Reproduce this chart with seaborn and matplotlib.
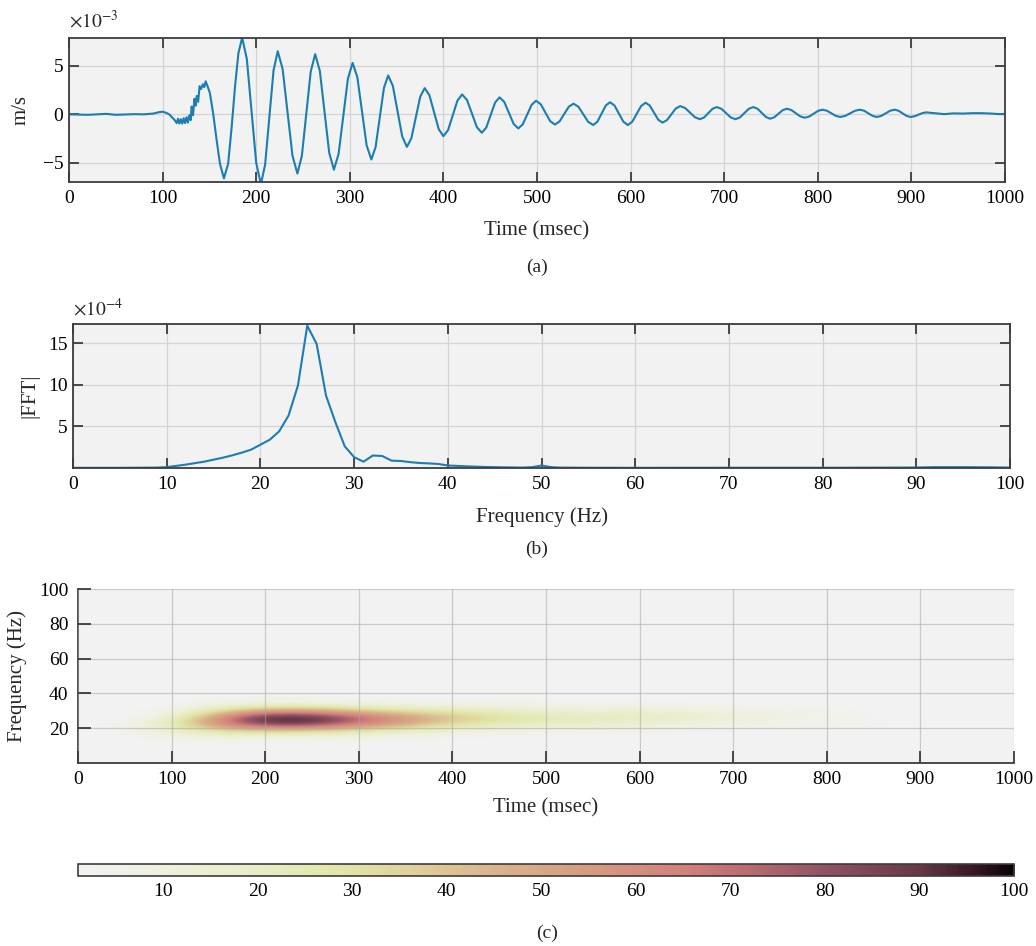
import numpy as np
import matplotlib
matplotlib.use('Agg')
import matplotlib.pyplot as plt
import seaborn as sns
from matplotlib.colors import LinearSegmentedColormap, Normalize

# (a) velocity trace, values in units of 1e-3 m/s
wave_t = [0, 10, 20, 30, 40, 50, 60, 70, 80, 90, 96, 100, 104, 107, 110, 113,
          115, 116.5, 118, 119.5, 121, 122.5, 124, 125.5, 127, 128.5, 130, 131,
          132.5, 134, 135.5, 136.5, 138, 139.5, 141, 143, 144.5, 146, 148, 150.5,
          154, 157.8, 161.3, 165.5, 170, 173.8, 177.4, 181, 185,
          190, 195, 200, 205, 209.5, 214, 218.5, 223, 228.25, 233.5, 238.75, 244,
          248.75, 253.5, 258.25, 263, 268, 273, 278, 283, 288, 293, 298, 303,
          308, 313, 318, 323, 327.5, 332, 336.5, 341, 346, 351, 356, 361,
          365.75, 370.5, 375.25, 380, 385, 390, 395, 400, 405, 410, 415, 420,
          425.25, 430.5, 435.75, 441, 445.75, 450.5, 455.25, 460, 465, 470, 475, 480,
          484.75, 489.5, 494.25, 499, 504, 509, 514, 519, 524, 529, 534, 539,
          544.25, 549.5, 554.75, 560, 564.5, 569, 573.5, 578, 582.75, 587.5, 592.25, 597,
          601.75, 606.5, 611.25, 616, 620.5, 625, 629.5, 634, 638.75, 643.5, 648.25, 653,
          658.25, 663.5, 668.75, 674, 678.5, 683, 687.5, 692, 697, 702, 707, 712,
          716.75, 721.5, 726.25, 731, 735.5, 740, 744.5, 749, 753.5, 758, 762.5, 767,
          771.75, 776.5, 781.25, 786, 790.75, 795.5, 800.25, 805, 809.75, 814.5, 819.25, 824,
          829.25, 834.5, 839.75, 845, 849.5, 854, 858.5, 863, 867.75, 872.5, 877.25, 882,
          886.25, 890.5, 894.75, 899, 903.25, 907.5, 911.75, 916,
          925, 935, 945, 955, 965, 975, 985, 995, 1000]
wave_v = [0.0, -0.02, -0.05, 0.0, 0.05, -0.05, -0.02, 0.02, 0.0, 0.08, 0.22, 0.27, 0.15, 0.0, -0.3, -0.6,
          -0.9, -0.45, -0.95, -0.5, -0.95, -0.4, -0.9, -0.3, -0.85, -0.1, -0.6, 0.8,
          -0.1, 1.6, 0.9, 1.9, 1.3, 2.9, 2.6, 3.1, 2.8, 3.4, 2.9, 2.2,
          0.1, -2.7, -5.1, -6.6, -5.1, -1.3, 2.9, 6.3, 7.9,
          5.70, 0.35, -5.00, -7.2, -5.20, -0.35, 4.50, 6.5, 4.66, 0.2, -4.26, -6.1,
          -4.30, 0.05, 4.40, 6.2, 4.46, 0.25, -3.96, -5.7, -4.09, -0.2, 3.69, 5.3,
          3.85, 0.33, -3.20, -4.65, -3.39, -0.33, 2.74, 4.0, 2.93, 0.33, -2.28, -3.35,
          -2.47, -0.33, 1.82, 2.7, 1.98, 0.23, -1.53, -2.25, -1.62, -0.1, 1.42, 2.05,
          1.47, 0.08, -1.32, -1.9, -1.37, -0.08, 1.22, 1.75, 1.28, 0.15, -0.98, -1.45,
          -1.03, -0.03, 0.98, 1.4, 1.04, 0.18, -0.69, -1.05, -0.74, 0.03, 0.79, 1.1,
          0.78, 0.0, -0.78, -1.1, -0.76, 0.08, 0.91, 1.25, 0.91, 0.08, -0.76, -1.1,
          -0.76, 0.05, 0.86, 1.2, 0.90, 0.18, -0.55, -0.85, -0.60, 0.0, 0.60, 0.85,
          0.65, 0.18, -0.30, -0.5, -0.32, 0.13, 0.57, 0.75, 0.57, 0.13, -0.32, -0.5,
          -0.32, 0.13, 0.57, 0.75, 0.58, 0.15, -0.27, -0.45, -0.30, 0.07, 0.43, 0.58,
          0.44, 0.12, -0.21, -0.35, -0.23, 0.07, 0.36, 0.48, 0.37, 0.1, -0.16, -0.27,
          -0.16, 0.1, 0.37, 0.48, 0.37, 0.1, -0.16, -0.27, -0.16, 0.1, 0.37, 0.48,
          0.37, 0.1, -0.16, -0.27, -0.20, -0.03, 0.13, 0.2,
          0.12, 0.02, 0.1, 0.08, 0.12, 0.12, 0.08, 0.02, 0.02]

# (b) FFT magnitude, values in units of 1e-4
fft_f = [0, 5, 9, 10, 11, 12, 13, 14, 15, 16, 17, 18, 19, 20, 21, 22, 23, 24, 25,
         26, 27, 28, 29, 30, 31, 32, 33, 34, 35, 36, 37, 38, 39, 40, 42, 44, 46,
         48, 49, 50, 51, 52, 55, 60, 70, 80, 88, 90, 92, 95, 98, 100]
fft_v = [0.02, 0.02, 0.05, 0.1, 0.25, 0.4, 0.58, 0.76, 1.0, 1.24, 1.52, 1.84, 2.2,
         2.8, 3.4, 4.4, 6.3, 9.9, 17.1, 14.9, 8.7, 5.5, 2.6, 1.3, 0.76, 1.5, 1.44,
         0.88, 0.84, 0.7, 0.6, 0.55, 0.48, 0.3, 0.2, 0.12, 0.08, 0.05, 0.1, 0.3,
         0.1, 0.05, 0.03, 0.02, 0.03, 0.03, 0.05, 0.06, 0.1, 0.1, 0.08, 0.05]

# (c) time-frequency power (0-100), rows = frequency, columns = time
spec_t = [0, 50, 100, 150, 200, 250, 300, 350, 400, 450, 500, 550, 600, 650, 700, 750, 800, 850, 900]
spec_f = [10, 12.5, 15, 17.5, 20, 22.5, 25, 27.5, 30, 32.5, 35, 37.5, 40, 42.5]
spec_power = [
    [0, 0, 1, 1, 1, 1, 0, 0, 0, 0, 0, 0, 0, 0, 0, 0, 0, 0, 0],
    [0, 0, 3, 4, 3, 3, 2, 2, 1, 0, 0, 0, 0, 0, 0, 0, 0, 0, 0],
    [0, 0, 7, 12, 11, 11, 8, 6, 3, 2, 1, 1, 1, 0, 0, 0, 0, 0, 0],
    [0, 2, 13, 26, 28, 28, 21, 16, 9, 6, 4, 4, 3, 2, 1, 1, 0, 0, 0],
    [0, 4, 19, 43, 56, 55, 42, 32, 20, 14, 11, 10, 8, 6, 4, 3, 2, 1, 0],
    [0, 3, 22, 57, 84, 83, 63, 48, 31, 24, 19, 17, 14, 11, 8, 6, 4, 2, 0],
    [0, 1, 18, 60, 96, 95, 72, 55, 38, 30, 24, 22, 19, 15, 11, 8, 5, 2, 0],
    [0, 0, 11, 50, 84, 83, 63, 48, 36, 28, 22, 20, 20, 16, 11, 8, 5, 2, 0],
    [0, 0, 5, 33, 56, 55, 42, 32, 26, 20, 16, 14, 16, 12, 8, 6, 4, 1, 0],
    [0, 0, 2, 17, 28, 28, 21, 16, 14, 10, 8, 7, 8, 6, 4, 3, 2, 0, 0],
    [0, 0, 0, 7, 11, 11, 8, 6, 5, 4, 3, 3, 3, 2, 1, 1, 0, 0, 0],
    [0, 0, 0, 3, 3, 3, 2, 2, 1, 1, 1, 0, 1, 0, 0, 0, 0, 0, 0],
    [0, 0, 0, 1, 1, 1, 0, 0, 0, 0, 0, 0, 0, 0, 0, 0, 0, 0, 0],
    [0, 0, 0, 0, 0, 0, 0, 0, 0, 0, 0, 0, 0, 0, 0, 0, 0, 0, 0],
]
cbar_ticks = [10, 20, 30, 40, 50, 60, 70, 80, 90, 100]

sns.set_theme(style='ticks')
plt.rcParams['font.family'] = ['Liberation Serif', 'DejaVu Serif']
plt.rcParams['mathtext.fontset'] = 'stix'

line_col = '#1b7db1'
bg = '#f2f2f2'
spine_col = '#3c3c3c'
tick_fs = 14
label_fs = 15

cmap = LinearSegmentedColormap.from_list('spec', [
    (0.0, '#f2f2f2'), (0.1, '#eff0dc'), (0.2, '#e8ecc2'), (0.28, '#e2e6a8'),
    (0.36, '#dfd09a'), (0.45, '#d9b389'), (0.55, '#d59a80'), (0.65, '#d4807c'),
    (0.72, '#b86a70'), (0.8, '#905262'), (0.9, '#683846'), (0.96, '#361624'),
    (1.0, '#0a0008')])


def matlab_axes(ax, box=True):
    ax.set_facecolor(bg)
    for s in ax.spines.values():
        s.set_color(spine_col)
        s.set_linewidth(1.3)
    ax.tick_params(direction='in', length=7, width=1.3, top=box, right=box,
                   colors=spine_col, labelcolor='black', labelsize=tick_fs, pad=4)
    ax.tick_params(axis='x', pad=6)
    ax.grid(True, color='#d4d4d4', linewidth=0.9)


fig = plt.figure(figsize=(10.36, 9.46), dpi=100)

# ---- (a) ----
ax_a = fig.add_axes([0.0666, 0.8076, 0.9035, 0.1522])
matlab_axes(ax_a)
ax_a.set_axisbelow(True)
sns.lineplot(x=wave_t, y=wave_v, ax=ax_a, color=line_col, linewidth=1.5, estimator=None)
ax_a.set_xlim(0, 1000)
ax_a.set_ylim(-6.97, 7.86)
ax_a.set_xticks(range(0, 1001, 100))
ax_a.set_yticks([-5, 0, 5])
ax_a.set_yticklabels(['\u22125', '0', '5'])
ax_a.set_xlabel('Time (msec)', fontsize=label_fs)
ax_a.set_ylabel('m/s', fontsize=label_fs)
ax_a.xaxis.set_label_coords(0.5, -0.27)
ax_a.yaxis.set_label_coords(-0.041, 0.5)
ax_a.text(0, 1.12, r'$\times10^{-3}$', transform=ax_a.transAxes, ha='left', va='center', fontsize=tick_fs)
fig.text(0.518, 0.7178, '(a)', ha='center', va='center', fontsize=tick_fs)

# ---- (b) ----
ax_b = fig.add_axes([0.0705, 0.5053, 0.9044, 0.1522])
matlab_axes(ax_b)
ax_b.set_axisbelow(True)
sns.lineplot(x=fft_f, y=fft_v, ax=ax_b, color=line_col, linewidth=1.5, estimator=None)
ax_b.set_xlim(0, 100)
ax_b.set_ylim(0, 17.3)
ax_b.set_xticks(range(0, 101, 10))
ax_b.set_yticks([5, 10, 15])
ax_b.set_xlabel('Frequency (Hz)', fontsize=label_fs)
ax_b.set_ylabel('|FFT|', fontsize=label_fs)
ax_b.xaxis.set_label_coords(0.5, -0.27)
ax_b.yaxis.set_label_coords(-0.036, 0.5)
ax_b.text(0, 1.11, r'$\times10^{-4}$', transform=ax_b.transAxes, ha='left', va='center', fontsize=tick_fs)
fig.text(0.518, 0.4197, '(b)', ha='center', va='center', fontsize=tick_fs)

# ---- (c) ----
ax_c = fig.add_axes([0.0753, 0.1934, 0.9035, 0.1839])
matlab_axes(ax_c, box=False)
dt = spec_t[1] - spec_t[0]
df = spec_f[1] - spec_f[0]
norm = Normalize(vmin=1, vmax=100)
im = ax_c.imshow(np.array(spec_power, dtype=float), cmap=cmap, norm=norm, origin='lower',
                 aspect='auto', interpolation='bicubic', interpolation_stage='data',
                 extent=[spec_t[0] - dt / 2, spec_t[-1] + dt / 2,
                         spec_f[0] - df / 2, spec_f[-1] + df / 2], zorder=0)
ax_c.grid(True, color='#a8a8a8', linewidth=0.9, alpha=0.55)
ax_c.set_axisbelow(False)
ax_c.set_xlim(0, 1000)
ax_c.set_ylim(0, 100)
ax_c.set_xticks(range(0, 1001, 100))
ax_c.set_yticks([20, 40, 60, 80, 100])
ax_c.tick_params(axis='y', pad=7)
ax_c.tick_params(length=9)
sns.despine(ax=ax_c)
ax_c.set_xlabel('Time (msec)', fontsize=label_fs)
ax_c.set_ylabel('Frequency (Hz)', fontsize=label_fs)
ax_c.xaxis.set_label_coords(0.5, -0.2)
ax_c.yaxis.set_label_coords(-0.054, 0.5)

cax = fig.add_axes([0.0753, 0.0740, 0.9035, 0.0127])
cb = fig.colorbar(im, cax=cax, orientation='horizontal', ticks=cbar_ticks)
cb.outline.set_edgecolor(spine_col)
cb.outline.set_linewidth(1.2)
cax.tick_params(direction='in', length=9, width=1.2, colors=spine_col,
                labelcolor='black', labelsize=tick_fs, pad=5)
fig.text(0.528, 0.0137, '(c)', ha='center', va='center', fontsize=tick_fs)

fig.savefig('out.png', dpi=100, facecolor='white')
